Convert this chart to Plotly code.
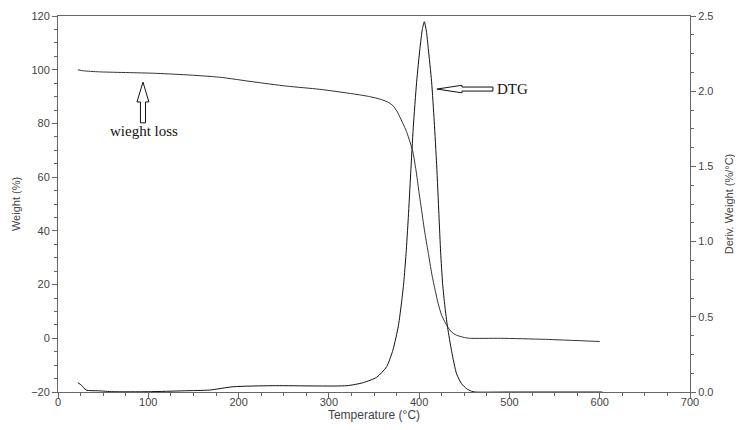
import plotly.graph_objects as go

# ---- data ----
tg_temp = [22, 28, 46, 105, 142, 179, 216, 253, 290, 327, 345, 357, 365, 371, 376, 382,
           386, 390, 393, 397, 400, 403, 406, 410, 414, 418, 421, 425, 431.5, 436,
           441, 450, 456, 490, 540, 600]
tg_weight = [100.0, 99.6, 99.2, 98.7, 98.1, 97.2, 95.5, 93.9, 92.7, 91.0, 90.0, 89.0,
             88.0, 86.6, 84.2, 80.0, 77.0, 73.0, 69.5, 61.5, 54.0, 47.0, 40.0, 32.0, 24.0,
             17.5, 13.0, 8.5, 4.3, 2.3, 1.2, 0.3, 0.0, 0.0, -0.4, -1.2]

dtg_temp = [22, 26, 31, 45, 61, 100, 140, 168, 194, 238, 320, 338, 353, 364, 371, 377,
            380.6, 383, 385.5, 388, 390.6, 393.5, 397.2, 400.9, 403.5, 405.7, 408, 410.1,
            413.8, 416.7, 419.4, 421.9, 423.8, 426, 428.5, 431.5, 436, 441.5, 447,
            452.6, 458, 462, 500, 550, 603]
dtg_deriv = [0.062, 0.045, 0.013, 0.008, 0.002, 0.002, 0.008, 0.013, 0.035, 0.042, 0.042,
             0.062, 0.098, 0.168, 0.28, 0.44, 0.60, 0.73, 0.92, 1.16, 1.45, 1.76, 2.06,
             2.285, 2.41, 2.462, 2.40, 2.285, 2.063, 1.80, 1.51, 1.18, 0.93, 0.72, 0.57,
             0.43, 0.27, 0.12, 0.055, 0.022, 0.005, 0.0, 0.0, 0.0, 0.0]

x_range = [0, 700]
y_range = [-20, 120]
y2_range = [0, 2.5]

AXIS_COLOR = "#666666"
TEXT_COLOR = "#444444"
SANS = "Liberation Sans, Arial, sans-serif"
SERIF = "Liberation Serif, Times New Roman, serif"

fig = go.Figure()
fig.add_trace(go.Scatter(x=tg_temp, y=tg_weight, mode="lines",
                         line=dict(color="#333333", width=1, shape="spline", smoothing=0.6),
                         name="Weight", yaxis="y"))
fig.add_trace(go.Scatter(x=dtg_temp, y=dtg_deriv, mode="lines",
                         line=dict(color="#111111", width=1, shape="spline", smoothing=0.6),
                         name="DTG", yaxis="y2"))

# hollow arrow outlines (annotation decorations, in data units)
up_arrow = "M 94.1 95.4 L 100.7 88.0 L 96.9 88.0 L 96.9 80.2 L 91.3 80.2 L 91.3 88.0 L 87.5 88.0 Z"
left_arrow = "M 419.7 92.8 L 447.4 94.2 L 447.4 93.55 L 481.7 93.55 L 481.7 92.05 L 447.4 92.05 L 447.4 91.4 Z"
fig.add_shape(type="path", path=up_arrow, xref="x", yref="y",
              line=dict(color="#111111", width=1), fillcolor="white")
fig.add_shape(type="path", path=left_arrow, xref="x", yref="y",
              line=dict(color="#111111", width=1), fillcolor="white")

fig.add_annotation(x=95, y=77.2, xref="x", yref="y", text="wieght loss", showarrow=False,
                   font=dict(family=SERIF, size=15, color="#111111"))
fig.add_annotation(x=484, y=93.0, xref="x", yref="y", text="DTG", showarrow=False,
                   xanchor="left", font=dict(family=SERIF, size=15, color="#111111"))

axis_common = dict(showline=True, linecolor=AXIS_COLOR, linewidth=1, showgrid=False,
                   zeroline=False, ticks="outside", ticklen=5, tickcolor=AXIS_COLOR,
                   automargin=False,
                   tickfont=dict(family=SANS, size=11, color=TEXT_COLOR))

# the page body has an 8px default margin, so the figure is sized/offset accordingly
fig.update_layout(
    width=735, height=422,
    margin=dict(l=50, r=53, t=8, b=38),
    paper_bgcolor="white", plot_bgcolor="white",
    showlegend=False,
    xaxis=dict(range=x_range, dtick=100, mirror=True, ticklabelstandoff=-5,
               minor=dict(dtick=25, ticks="outside", ticklen=3, tickcolor=AXIS_COLOR),
               title=dict(text="Temperature (°C)", standoff=2,
                          font=dict(family=SANS, size=12, color=TEXT_COLOR)),
               **axis_common),
    yaxis=dict(range=y_range, dtick=20,
               minor=dict(dtick=5, ticks="outside", ticklen=3, tickcolor=AXIS_COLOR),
               title=dict(text="Weight (%)", standoff=8,
                          font=dict(family=SANS, size=11, color=TEXT_COLOR)),
               **axis_common),
    yaxis2=dict(range=y2_range, dtick=0.5, tickformat=".1f", overlaying="y", side="right",
                minor=dict(dtick=0.125, ticks="outside", ticklen=3, tickcolor=AXIS_COLOR),
                title=dict(text="Deriv. Weight (%/°C)", standoff=12,
                           font=dict(family=SANS, size=11, color=TEXT_COLOR)),
                **axis_common),
)

fig.write_html("out.html")
